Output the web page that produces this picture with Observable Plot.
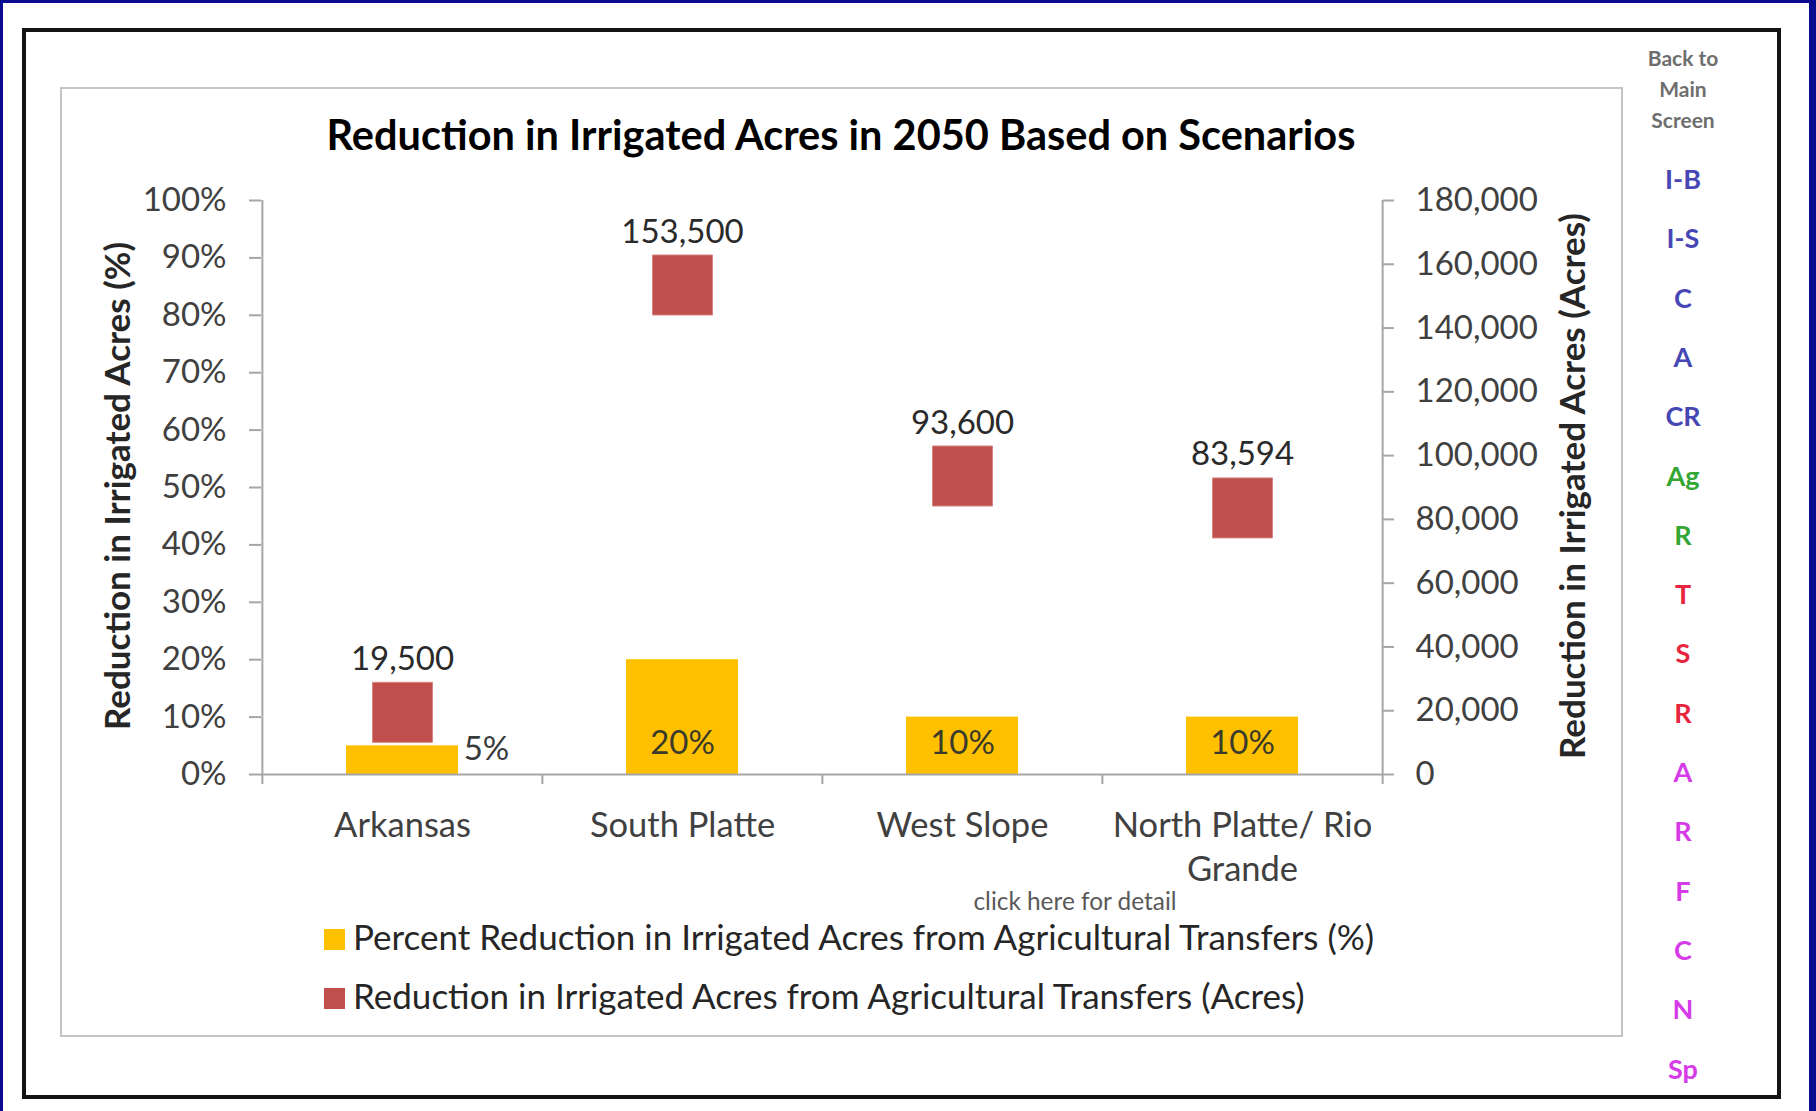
<!DOCTYPE html>
<html>
<head>
<meta charset="utf-8">
<script src="https://cdn.jsdelivr.net/npm/d3@7"></script>
<script src="https://cdn.jsdelivr.net/npm/@observablehq/plot@0.6"></script>
<style>
html, body { margin: 0; padding: 0; }
body { width: 1816px; height: 1111px; background: #0b0b8e; position: relative; overflow: hidden; font-family: Lato, "Open Sans", sans-serif; }
.abs { position: absolute; }
#panel { left: 3px; top: 3px; width: 1806px; height: 1108px; background: #fff; }
#frame { left: 22px; top: 28px; width: 1759px; height: 1071px; border: 4px solid #141414; box-sizing: border-box; }
#chartbox { left: 60px; top: 87px; width: 1563px; height: 950px; border: 2px solid #c4c4c4; box-sizing: border-box; }
#title { left: 60px; width: 1562px; top: 110px; height: 48px; line-height: 48px; text-align: center; font-weight: 700; font-size: 41.5px; color: #000; white-space: nowrap; }
#plot { left: 60px; top: 150px; }
.ytitle { width: 700px; height: 44px; line-height: 44px; text-align: center; font-weight: 700; font-size: 35px; color: #262626; transform: rotate(-90deg); transform-origin: 50% 50%; white-space: nowrap; }
.legend-item { height: 42px; line-height: 42px; font-size: 35px; color: #262626; white-space: nowrap; }
.swatch { display: inline-block; width: 21px; height: 21px; vertical-align: middle; margin-right: 8px; position: relative; top: -2px; }
#detail { font-size: 24.4px; color: #595959; white-space: nowrap; transform: translate(-50%, -50%); }
.nav { width: 140px; left: 1613px; text-align: center; white-space: nowrap; transform: translateY(-50%); }
.navhead { font-size: 21px; font-weight: 700; color: #6e6e6e; }
.navlink { font-size: 27px; font-weight: 700; }
</style>
</head>
<body>
<div id="panel" class="abs"></div>
<div id="frame" class="abs"></div>
<div id="chartbox" class="abs"></div>
<div id="title" class="abs"></div>
<div id="plot" class="abs"></div>
<div id="ytitleLeft" class="abs ytitle"></div>
<div id="ytitleRight" class="abs ytitle"></div>
<div id="detail" class="abs"></div>
<div id="legend"></div>
<div id="nav"></div>
<script>
// ---------- data ----------
const chartTitle = "Reduction in Irrigated Acres in 2050 Based on Scenarios";
const categories = ["Arkansas", "South Platte", "West Slope", "North Platte/ Rio Grande"];
const percentReduction = [0.05, 0.20, 0.10, 0.10];
const acresReduction = [19500, 153500, 93600, 83594];
const percentTicks = [0, 0.1, 0.2, 0.3, 0.4, 0.5, 0.6, 0.7, 0.8, 0.9, 1.0];
const acresTicks = [0, 20000, 40000, 60000, 80000, 100000, 120000, 140000, 160000, 180000];
const acresAxisMax = 180000;
const leftAxisTitle = "Reduction in Irrigated Acres (%)";
const rightAxisTitle = "Reduction in Irrigated Acres (Acres)";
const seriesNames = [
  "Percent Reduction in Irrigated Acres from Agricultural Transfers (%)",
  "Reduction in Irrigated Acres from Agricultural Transfers (Acres)"
];
const seriesColors = ["#ffc000", "#c0504d"];
const detailLink = "click here for detail";
const navHeader = ["Back to", "Main", "Screen"];
const navLabels = ["I-B", "I-S", "C", "A", "CR", "Ag", "R", "T", "S", "R", "A", "R", "F", "C", "N", "Sp"];
const navGroups = ["blue", "blue", "blue", "blue", "blue", "green", "green", "red", "red", "red", "pink", "pink", "pink", "pink", "pink", "pink"];
const navPalette = { blue: "#4646b4", green: "#33a633", red: "#e8253f", pink: "#d63be8" };

// ---------- chart ----------
const rows = categories.map((c, i) => ({ category: c, pct: percentReduction[i], acres: acresReduction[i] }));

const W = 1562, H = 760, mL = 201, mR = 240, mT = 50, mB = 136;
const step = (W - mL - mR) / categories.length;
const axisGray = "#a6a6a6";
const textDark = "#404040";

const plot = Plot.plot({
  width: W, height: H,
  marginLeft: mL, marginRight: mR, marginTop: mT, marginBottom: mB,
  style: "font-family: Lato, 'Open Sans', sans-serif; font-size: 33px; background: transparent; overflow: visible; color: #404040;",
  x: { domain: categories, paddingInner: 0.6, paddingOuter: 0.3, axis: null },
  y: { domain: [0, 1], axis: null },
  marks: [
    Plot.barY(rows, { x: "category", y: "pct", fill: seriesColors[0] }),
    Plot.dot(rows, { x: "category", y: d => d.acres / acresAxisMax, symbol: "square", r: 60 / Math.sqrt(Math.PI), fill: seriesColors[1], stroke: "#d9827f", strokeWidth: 1 }),
    // axis lines
    Plot.ruleY([0], { stroke: axisGray, strokeWidth: 2 }),
    Plot.ruleX([categories[0]], { y1: 0, y2: 1, dx: -step / 2, stroke: axisGray, strokeWidth: 2 }),
    Plot.ruleX([categories[categories.length - 1]], { y1: 0, y2: 1, dx: step / 2, stroke: axisGray, strokeWidth: 2 }),
    // category boundary ticks
    Plot.axisX(categories, { tickSize: 10, tickFormat: () => "", dx: -step / 2, stroke: axisGray, strokeWidth: 2, label: null }),
    Plot.axisX([categories[categories.length - 1]], { tickSize: 10, tickFormat: () => "", dx: step / 2, stroke: axisGray, strokeWidth: 2, label: null }),
    // category labels
    Plot.axisX(categories, {
      tickSize: 0, tickPadding: 31, fill: textDark, fontSize: 34.5, lineHeight: 1.28, label: null,
      tickFormat: d => d.replace(" Rio Grande", " Rio\nGrande")
    }),
    // left axis
    Plot.axisY(percentTicks, { anchor: "left", tickSize: 12, tickPadding: 23, tickFormat: d3.format(".0%"), stroke: axisGray, strokeWidth: 2, fill: textDark, fontSize: 33, label: null }),
    // right axis
    Plot.axisY(acresTicks.map(v => v / acresAxisMax), { anchor: "right", tickSize: 11, tickPadding: 22, tickFormat: d => d3.format(",")(Math.round(d * acresAxisMax)), stroke: axisGray, strokeWidth: 2, fill: textDark, fontSize: 33, label: null }),
    // data labels
    Plot.text(rows, { x: "category", y: d => d.acres / acresAxisMax, text: d => d3.format(",")(d.acres), dy: -53, fontSize: 33, fill: "#2a2a2a" }),
    Plot.text(rows.filter(d => d.pct >= 0.1), { x: "category", y: d => 0, text: d => d3.format(".0%")(d.pct), dy: -31, fontSize: 33, fill: "#3a3a2a" }),
    Plot.text(rows.filter(d => d.pct < 0.1), { x: "category", y: d => 0, text: d => d3.format(".0%")(d.pct), dx: 84, dy: -25, fontSize: 33, fill: "#3a3a3a" })
  ]
});
document.getElementById("plot").appendChild(plot);

// ---------- texts ----------
document.getElementById("title").textContent = chartTitle;
const yl = document.getElementById("ytitleLeft");
yl.textContent = leftAxisTitle;
yl.style.left = (116 - 350) + "px"; yl.style.top = (486 - 22) + "px";
const yr = document.getElementById("ytitleRight");
yr.textContent = rightAxisTitle;
yr.style.left = (1571 - 350) + "px"; yr.style.top = (486 - 22) + "px";

const det = document.getElementById("detail");
det.textContent = detailLink;
det.style.left = "1075px"; det.style.top = "900px";

const legend = document.getElementById("legend");
seriesNames.forEach((name, i) => {
  const item = document.createElement("div");
  item.className = "abs legend-item";
  item.style.left = "324px";
  item.style.top = (915 + i * 59) + "px";
  const sw = document.createElement("span");
  sw.className = "swatch";
  sw.style.background = seriesColors[i];
  item.appendChild(sw);
  item.appendChild(document.createTextNode(name));
  legend.appendChild(item);
});

const nav = document.getElementById("nav");
navHeader.forEach((t, i) => {
  const d = document.createElement("div");
  d.className = "abs nav navhead";
  d.style.top = (57 + i * 31) + "px";
  d.textContent = t;
  nav.appendChild(d);
});
navLabels.forEach((t, i) => {
  const d = document.createElement("div");
  d.className = "abs nav navlink";
  d.style.top = (178 + i * 59.3) + "px";
  d.style.color = navPalette[navGroups[i]];
  d.textContent = t;
  nav.appendChild(d);
});
</script>
</body>
</html>
